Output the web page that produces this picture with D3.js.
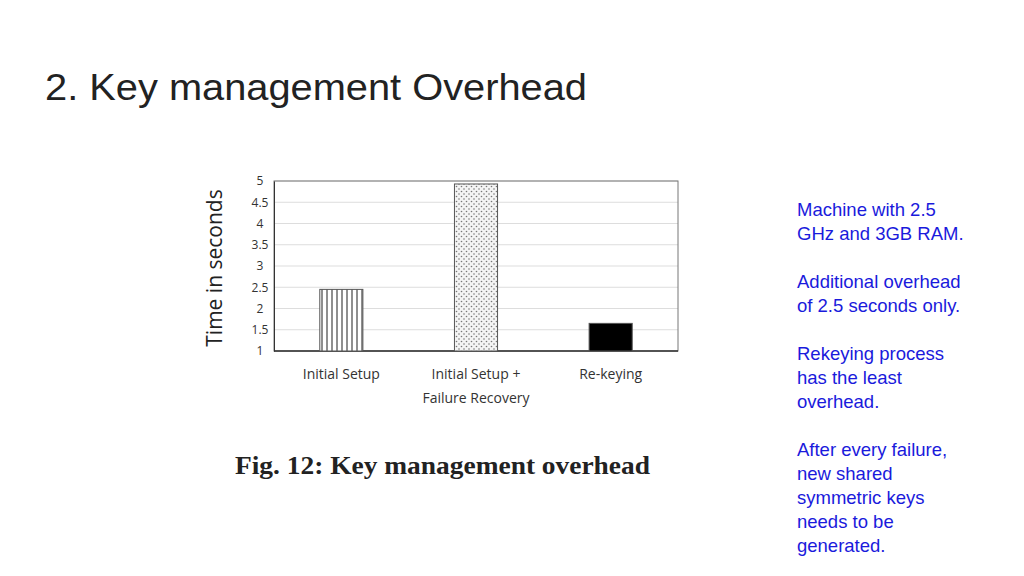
<!DOCTYPE html>
<html><head><meta charset="utf-8">
<script src="https://cdn.jsdelivr.net/npm/d3@7"></script>
<style>body{margin:0;background:#fff}</style>
</head><body><div id="chart-area"></div>
<script>
// data
const categories = ["Initial Setup", "Initial Setup +|Failure Recovery", "Re-keying"];
const values = [2.45, 4.93, 1.65];
const patterns = ["stripes", "dots", "solid"];
const yTicks = [1, 1.5, 2, 2.5, 3, 3.5, 4, 4.5, 5];
const notes = [
    ["Machine with 2.5", "GHz and 3GB RAM."],
    ["Additional overhead", "of 2.5 seconds only."],
    ["Rekeying process", "has the least", "overhead."],
    ["After every failure,", "new shared", "symmetric keys", "needs to be", "generated."]
];

var svg = d3.select("#chart-area").append("svg")
    .attr("width", 1024).attr("height", 576);

var defs = svg.append("defs");
var st = defs.append("pattern").attr("id", "stripes").attr("patternUnits", "userSpaceOnUse")
    .attr("width", 5).attr("height", 5);
st.append("rect").attr("width", 5).attr("height", 5).attr("fill", "#fff");
st.append("line").attr("x1", 2).attr("x2", 2).attr("y1", 0).attr("y2", 5).attr("stroke", "#444").attr("stroke-width", 1.2);
var dt = defs.append("pattern").attr("id", "dots").attr("patternUnits", "userSpaceOnUse")
    .attr("width", 5).attr("height", 5);
dt.append("rect").attr("width", 5).attr("height", 5).attr("fill", "#f4f4f4");
dt.append("circle").attr("cx", 1.5).attr("cy", 1.5).attr("r", 0.8).attr("fill", "#777");
dt.append("circle").attr("cx", 4).attr("cy", 4).attr("r", 0.8).attr("fill", "#777");

svg.append("text").attr("x", 45).attr("y", 100)
    .attr("font-family", "Liberation Sans, Arial").attr("font-size", 36).attr("fill", "#222")
    .attr("textLength", 542).attr("lengthAdjust", "spacingAndGlyphs")
    .text("2. Key management Overhead");

var pLeft = 274, pRight = 678, pTop = 181, pBottom = 351;
var x = d3.scaleBand().domain(categories).range([pLeft, pRight]).paddingInner(0.68).paddingOuter(0.34);
var y = d3.scaleLinear().domain([1, 5]).range([pBottom, pTop]);

var g = svg.append("g");
g.selectAll(".grid").data(yTicks).join("line")
    .attr("x1", pLeft).attr("x2", pRight)
    .attr("y1", d => y(d)).attr("y2", d => y(d))
    .attr("stroke", "#ddd");

g.append("rect").attr("x", pLeft).attr("y", pTop).attr("width", pRight - pLeft).attr("height", pBottom - pTop)
    .attr("fill", "none").attr("stroke", "#777");

var yAxis = g.append("g").attr("transform", "translate(" + pLeft + ",0)")
    .call(d3.axisLeft(y).tickValues(yTicks).tickSize(0).tickPadding(10).tickFormat(d3.format("")));
yAxis.select(".domain").attr("stroke", "#333");
yAxis.selectAll("text").attr("font-family", "Open Sans, sans-serif").attr("font-size", 12).attr("fill", "#333")
    .attr("text-anchor", "middle").attr("dx", -4);

g.append("line").attr("x1", pLeft).attr("x2", pRight).attr("y1", pBottom).attr("y2", pBottom)
    .attr("stroke", "#333").attr("stroke-width", 1.5);

g.selectAll(".bar").data(values).join("rect")
    .attr("x", (d, i) => x(categories[i]))
    .attr("y", d => y(d))
    .attr("width", x.bandwidth())
    .attr("height", d => pBottom - y(d))
    .attr("fill", (d, i) => patterns[i] == "solid" ? "#000" : "url(#" + patterns[i] + ")")
    .attr("stroke", "#555");

categories.forEach(function(c, i){
    c.split("|").forEach(function(line, j){
        g.append("text")
            .attr("x", x(c) + x.bandwidth() / 2).attr("y", 379 + j * 24)
            .attr("text-anchor", "middle")
            .attr("font-family", "Open Sans, sans-serif").attr("font-size", 14).attr("fill", "#333")
            .text(line);
    });
});

g.append("text").attr("transform", "translate(222,268) rotate(-90)")
    .attr("text-anchor", "middle").attr("font-family", "Open Sans, sans-serif")
    .attr("font-size", 21).attr("fill", "#222").text("Time in seconds");

svg.append("text").attr("x", 235).attr("y", 474)
    .attr("font-family", "Liberation Serif, serif").attr("font-weight", "bold").attr("font-size", 25).attr("fill", "#222")
    .attr("textLength", 415).attr("lengthAdjust", "spacingAndGlyphs")
    .text("Fig. 12: Key management overhead");

var ny = 216;
notes.forEach(function(block){
    block.forEach(function(line){
        svg.append("text").attr("x", 797).attr("y", ny)
            .attr("font-family", "Liberation Sans, Arial").attr("font-size", 18.5).attr("fill", "#1a1adc")
            .text(line);
        ny += 24;
    });
    ny += 24;
});
</script>
</body></html>
